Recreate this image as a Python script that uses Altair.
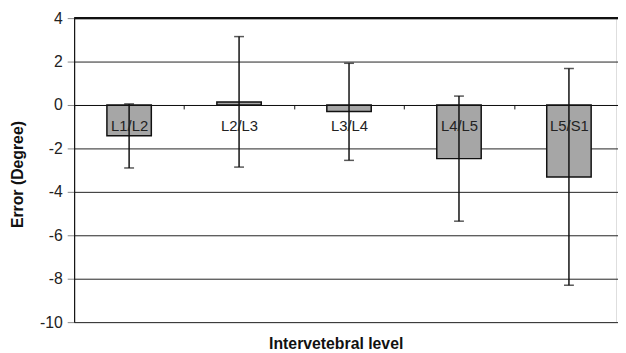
import altair as alt
import pandas as pd

levels = ["L1/L2", "L2/L3", "L3/L4", "L4/L5", "L5/S1"]
mean_error = [-1.42, 0.14, -0.30, -2.47, -3.32]
err_upper = [0.05, 3.15, 1.92, 0.41, 1.68]
err_lower = [-2.90, -2.86, -2.55, -5.35, -8.30]
y_ticks = [-10, -8, -6, -4, -2, 0, 2, 4]

df = pd.DataFrame({"level": levels, "mean": mean_error, "hi": err_upper, "lo": err_lower})

W, H = 549, 308
FONT = "Liberation Sans"

yscale = alt.Scale(domain=[-10, 4], nice=False, zero=False)
xscale = alt.Scale(domain=levels, range=[0, 557], paddingInner=0, paddingOuter=0)

x_enc = alt.X(
    "level:N", sort=levels, scale=xscale,
    axis=alt.Axis(
        title=None, orient="bottom", offset=-220, tickBand="extent",
        domainColor="#111", domainWidth=1.2, tickColor="#111", tickSize=4, tickWidth=1,
        labelFontSize=15, labelColor="#222", labelPadding=10, labelFont=FONT,
        grid=False, zindex=1, labelAngle=0,
    ),
)

y_axis = alt.Axis(
    values=y_ticks, title="Error (Degree)", titleFontSize=16, titleFontWeight="bold",
    titleFont=FONT, titleColor="#111", titleX=-49, titleY=158,
    labelFontSize=16, labelFont=FONT, labelColor="#222", labelPadding=5,
    labelExpr="'' + datum.value",
    tickColor="#888", tickSize=7, tickWidth=1,
    domainColor="#111", domainWidth=1.2,
    grid=True, gridColor="#222", gridWidth=1, gridOpacity=1,
)

base = alt.Chart(df)

bars = base.mark_bar(size=45, color="#a6a6a6", stroke="#111", strokeWidth=1.5).encode(
    x=x_enc,
    y=alt.Y("mean:Q", scale=yscale, axis=y_axis),
)

err = base.mark_rule(color="#111", strokeWidth=1.5).encode(
    x="level:N", y="lo:Q", y2="hi:Q"
)
cap_hi = base.mark_tick(color="#111", size=10, thickness=1.5, orient="horizontal").encode(
    x="level:N", y="hi:Q"
)
cap_lo = base.mark_tick(color="#111", size=10, thickness=1.5, orient="horizontal").encode(
    x="level:N", y="lo:Q"
)

top_line = alt.Chart(pd.DataFrame({"v": [4]})).mark_rule(color="#111", strokeWidth=2.5).encode(
    y="v:Q", x=alt.value(0), x2=alt.value(565)
)

chart = alt.layer(bars, err, cap_hi, cap_lo, top_line).properties(
    width=W, height=H,
    autosize=alt.AutoSizeParams(type="none"),
    padding={"left": 67, "top": 8, "right": 2, "bottom": 29},
    title=alt.TitleParams(
        "Intervetebral level", orient="bottom", fontSize=16, fontWeight="bold",
        font=FONT, color="#111", offset=6, dx=-9, frame="group", anchor="middle",
    ),
).configure_view(stroke=None).configure(font=FONT)

chart.save("out.html", embed_options={"renderer": "svg", "actions": False})
